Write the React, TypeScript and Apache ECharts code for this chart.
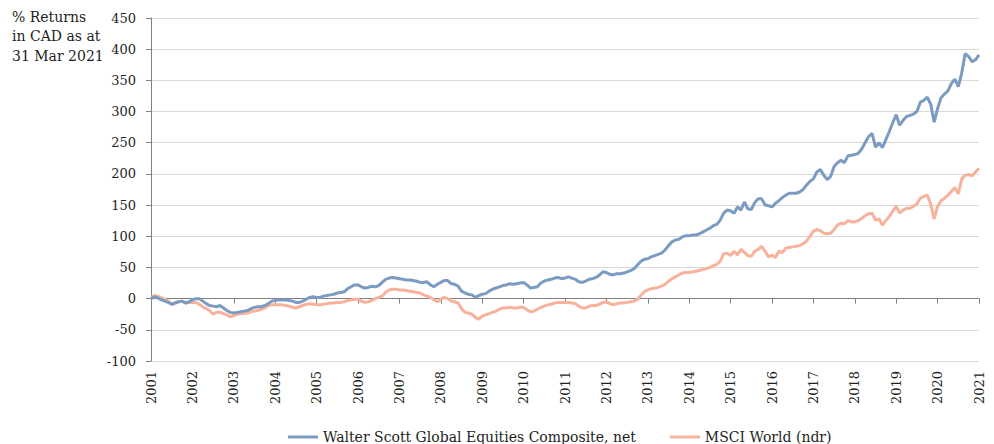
import React, { useEffect, useRef } from "react";
import * as echarts from "echarts";

const seriesNames = ["Walter Scott Global Equities Composite, net", "MSCI World (ndr)"];
const yTicks = { min: -100, max: 450, interval: 50 };
const startYear = 2001;
const monthCount = 241;

const walterScott = [
  0, 3, 1, -2, -4, -6, -9, -7, -5, -4, -7, -5,
  -2, 0, 0, -4, -8, -11, -12, -13, -11, -15, -19, -22,
  -23, -22, -21, -20, -19, -16, -14, -13, -13, -11, -8, -4,
  -3, -2, -2, -2, -3, -4, -6, -6, -4, -1, 2, 3,
  2, 2, 4, 5, 6, 7, 9, 10, 11, 16, 19, 22,
  22, 19, 17, 18, 20, 19, 21, 26, 31, 33, 34, 33,
  32, 31, 30, 30, 29, 28, 26, 26, 27, 22, 19, 23,
  26, 29, 29, 24, 23, 20, 12, 9, 7, 6, 2, 5,
  7, 8, 12, 15, 17, 19, 21, 22, 24, 23, 24, 25,
  26, 22, 17, 18, 19, 25, 28, 30, 31, 33, 34, 32,
  33, 35, 33, 31, 27, 26, 28, 31, 32, 34, 38, 43,
  42, 39, 38, 40, 40, 41, 43, 45, 48, 54, 60, 63,
  64, 67, 69, 71, 73, 78, 85, 91, 94, 95, 99, 101,
  101, 102, 102, 104, 107, 110, 113, 117, 119, 126, 137, 142,
  141, 137, 147, 142, 155, 144, 143, 154, 160, 160, 150, 149,
  147, 153, 157, 162, 166, 169, 169, 169, 171, 175, 182, 188,
  192, 203, 207, 198, 191, 196, 212, 218, 222, 218, 229, 230,
  231, 233, 240, 250, 260, 265, 243, 250, 242, 255, 268, 282,
  295, 278, 286, 292, 294, 296, 300, 315, 318, 323, 312, 283,
  305, 322, 328, 333, 345, 352, 340, 362, 393, 388, 380, 383,
  391,
];

const msciWorld = [
  2, 5, 4, 1, -1, -4, -9, -7, -5, -4, -7, -6,
  -6, -6, -9, -13, -16, -19, -25, -22, -22, -24, -26, -29,
  -27, -25, -24, -24, -23, -21, -20, -19, -17, -15, -11, -10,
  -10, -10, -10, -11, -12, -14, -15, -13, -11, -9, -8, -9,
  -10, -10, -9, -8, -7, -7, -6, -6, -5, -3, -2, -1,
  -1, -4, -6, -5, -3, 0, 2, 4, 10, 14, 15, 15,
  14, 14, 13, 12, 11, 10, 9, 6, 4, 2, -2, -5,
  -1, 2, 0, -4, -5, -7, -16, -22, -23, -25, -30, -33,
  -28, -26, -24, -22, -20, -17, -15, -15, -14, -15, -15, -14,
  -14, -18, -21, -20, -17, -14, -12, -10, -9, -7, -6, -6,
  -6, -6, -7, -8, -12, -15, -15, -12, -11, -11, -9, -6,
  -5, -8, -10, -8, -7, -7, -6, -5, -4, -1, 5, 11,
  14, 16, 17, 18, 20, 23, 28, 32, 35, 38, 41, 42,
  42, 43, 44, 45, 47, 48, 50, 53, 55, 60, 72, 73,
  69, 76, 70, 79, 74, 69, 68, 76, 79, 84, 76, 67,
  70, 66, 76, 74, 81, 82, 83, 84, 85, 88, 92, 100,
  108, 111, 109, 105, 104, 105, 111, 118, 121, 120, 125, 123,
  123, 125, 129, 133, 136, 137, 126, 128, 118, 125, 132, 140,
  148, 137, 142, 145, 145, 148, 152, 161, 164, 166, 152, 128,
  148, 157, 161, 166, 172, 178, 168, 192, 198, 199, 197, 203,
  209,
];

const months: string[] = [];
for (let i = 0; i < monthCount; i++) {
  const total = 2 + i; // starting March 2001
  const y = startYear + Math.floor(total / 12);
  const m = (total % 12) + 1;
  months.push(`${y}-${String(m).padStart(2, "0")}`);
}

const FONT = "DejaVu Serif";
const TEXT = "#231f20";

export default function App() {
  const ref = useRef<HTMLDivElement>(null);
  useEffect(() => {
    if (!ref.current) return;
    const chart = echarts.init(ref.current, null, { renderer: "svg" });
    chart.setOption({
      animation: false,
      textStyle: { fontFamily: FONT, color: TEXT },
      grid: { left: 151, right: 15, top: 18, bottom: 83, containLabel: false },
      graphic: [
        {
          type: "text",
          left: 12,
          top: 7,
          style: {
            text: "% Returns\nin CAD as at\n31 Mar 2021",
            font: `14px '${FONT}'`,
            fill: TEXT,
            lineHeight: 19.5,
          },
        },
      ],
      legend: {
        left: 283,
        top: 425,
        icon: "rect",
        itemWidth: 30,
        itemHeight: 3,
        itemGap: 34,
        textStyle: { fontFamily: FONT, fontSize: 14, color: TEXT },
        data: seriesNames,
      },
      xAxis: {
        type: "category",
        data: months,
        boundaryGap: false,
        axisLine: { lineStyle: { color: "#808080", width: 1 } },
        axisTick: { show: true, interval: 11, length: 5, lineStyle: { color: "#808080" } },
        axisLabel: {
          interval: 11,
          rotate: 90,
          margin: 10,
          fontFamily: FONT,
          fontSize: 13,
          color: TEXT,
          formatter: (v: string) => v.slice(0, 4),
        },
        splitLine: { show: false },
      },
      yAxis: {
        type: "value",
        min: yTicks.min,
        max: yTicks.max,
        interval: yTicks.interval,
        axisLine: { show: true, lineStyle: { color: "#808080", width: 1 } },
        axisTick: { show: true, length: 5, lineStyle: { color: "#808080" } },
        axisLabel: { fontFamily: FONT, fontSize: 13, color: TEXT, margin: 15 },
        splitLine: { lineStyle: { color: "#d9d9d9", width: 1 } },
      },
      series: [
        {
          name: seriesNames[0],
          type: "line",
          data: walterScott,
          showSymbol: false,
          lineStyle: { color: "#7b9bc2", width: 3 },
          itemStyle: { color: "#7b9bc2" },
          z: 3,
        },
        {
          name: seriesNames[1],
          type: "line",
          data: msciWorld,
          showSymbol: false,
          lineStyle: { color: "#f8b29b", width: 3 },
          itemStyle: { color: "#f8b29b" },
          z: 2,
        },
      ],
    });
    return () => chart.dispose();
  }, []);
  return <div ref={ref} style={{ width: 994, height: 444, position: "absolute", left: 0, top: 0 }} />;
}
